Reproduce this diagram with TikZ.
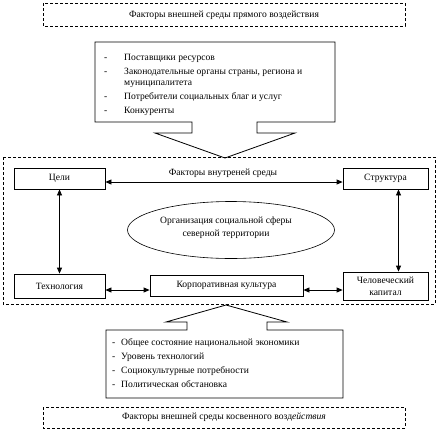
\documentclass[tikz,border=0pt]{standalone}
\usepackage{fontspec}
\setmainfont{Liberation Serif}
\usetikzlibrary{positioning, arrows.meta, shapes.geometric}

\begin{document}
\begin{tikzpicture}[x=1pt, y=-1pt,
    frame/.style={draw=black, dash pattern=on 3pt off 2pt, line width=0.6pt},
    block/.style={rectangle, draw=black, line width=0.8pt, inner sep=0pt,
                  font=\fontsize{9.6}{12}\selectfont},
    outline/.style={draw=black, line width=0.8pt},
    arrow/.style={{Triangle[length=6pt, width=5pt]}-{Triangle[length=6pt, width=5pt]}, line width=0.8pt},
    label/.style={font=\fontsize{9.6}{12}\selectfont, inner sep=0pt}
]
    \useasboundingbox (0,0) rectangle (445,432);

    % === External factors, direct ===
    \draw[frame] (43,3) rectangle (405,26);
    \node[label] (directtitle) at (224,15) {Факторы внешней среды прямого воздействия};

    \draw[outline] (192,122) -- (95,122) -- (95,42) -- (335,42) -- (335,122) -- (257,122)
        -- (257,133) -- (295,133) -- (225,158) -- (155,133) -- (192,133) -- cycle;
    \node[label, anchor=north west, align=left] (direct) at (104,54) {
        \makebox[20pt][l]{-}Поставщики ресурсов\\[2pt]
        \makebox[20pt][l]{-}Законодательные органы страны, региона и\\[-1pt]
        \hspace*{20pt}муниципалитета\\[2pt]
        \makebox[20pt][l]{-}Потребители социальных благ и услуг\\[2pt]
        \makebox[20pt][l]{-}Конкуренты
    };

    % === Internal factors ===
    \draw[frame] (3,157) rectangle (435,304);
    \node[label] (innertitle) at (223,173) {Факторы внутреней среды};

    \node[block, minimum width=91pt, minimum height=21pt] (goals) at (59.5,178.5) {Цели};
    \node[block, minimum width=85pt, minimum height=21pt] (struct) at (385.5,178.5) {Структура};
    \node[block, minimum width=91pt, minimum height=24pt] (tech) at (59.5,286) {Технология};
    \node[block, minimum width=153pt, minimum height=21pt] (corp) at (226.5,285.5) {Корпоративная культура};
    \node[block, minimum width=85pt, minimum height=28pt, align=center] (human) at (385.5,286)
        {Человеческий\\капитал};

    \node[ellipse, draw=black, line width=0.6pt, minimum width=207pt, minimum height=57pt] (org) at (231,230) {};
    \node[label, align=center] (orgtext) at (226,227.5) {Организация социальной сферы\\[1pt]северной территории};

    \draw[arrow] ([yshift=-3.5pt]goals.east) -- ([yshift=-3.5pt]struct.west);
    \draw[arrow] (goals.south) -- (tech.north);
    \draw[arrow] ([xshift=13pt]struct.south) -- ([xshift=13pt]human.north);
    \draw[arrow] ([yshift=-4pt]tech.east) -- ([yshift=-4.5pt]corp.west);
    \draw[arrow] ([yshift=-4.5pt]corp.east) -- ([yshift=-4pt]human.west);

    % === External factors, indirect ===
    \draw[outline] (187,330) -- (106,330) -- (106,398) -- (343,398) -- (343,330) -- (267,330)
        -- (267,322) -- (287,322) -- (226,305) -- (166,322) -- (187,322) -- cycle;
    \node[label, anchor=north west, align=left] (indirect) at (112,338) {
        \makebox[9pt][l]{-}Общее состояние национальной экономики\\[2pt]
        \makebox[9pt][l]{-}Уровень технологий\\[2pt]
        \makebox[9pt][l]{-}Социокультурные потребности\\[2pt]
        \makebox[9pt][l]{-}Политическая обстановка
    };

    \draw[frame] (43,407) rectangle (405,428);
    \node[label] (indirecttitle) at (224,417) {Факторы внешней среды косвенного возд\textit{ействия}};

\end{tikzpicture}
\end{document}
